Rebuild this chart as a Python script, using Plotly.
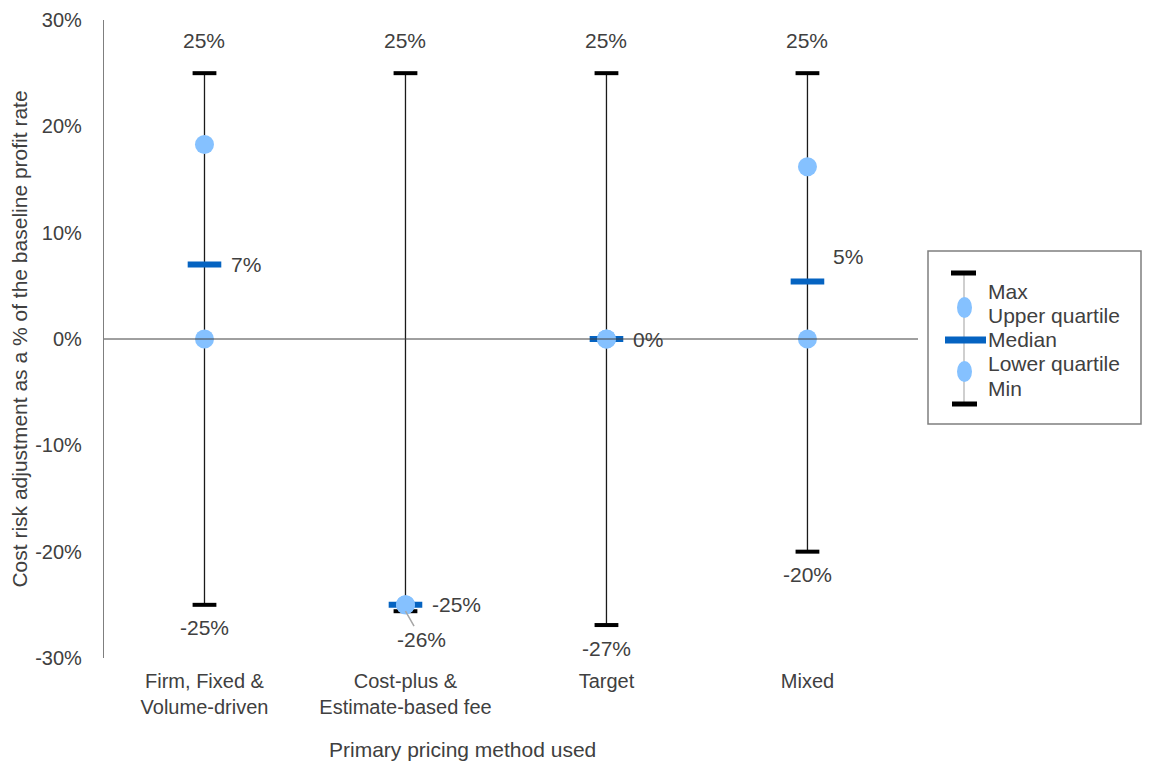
import plotly.graph_objects as go

categories = ["Firm, Fixed &<br>Volume-driven", "Cost-plus &<br>Estimate-based fee", "Target", "Mixed"]
max_vals = [25, 25, 25, 25]
upper_q = [18.3, -25, 0, 16.2]
median = [7, -25, 0, 5.4]
lower_q = [0, -25, 0, 0]
min_vals = [-25, -25.6, -26.9, -20]

FONT = "Liberation Sans, Arial, sans-serif"
TXT = "#404040"
BLUE = "#0563C1"
LBLUE = "#85C1FF"

xs = list(range(len(categories)))
fig = go.Figure()

# whiskers
lx, ly = [], []
for i in xs:
    lx += [i, i, None]
    ly += [min_vals[i], max_vals[i], None]
fig.add_trace(go.Scatter(x=lx, y=ly, mode="lines", line=dict(color="#1a1a1a", width=1.3), hoverinfo="skip"))
# caps
fig.add_trace(go.Scatter(x=xs, y=max_vals, mode="markers",
                         marker=dict(symbol="line-ew", size=17, line=dict(color="black", width=4))))
fig.add_trace(go.Scatter(x=xs, y=min_vals, mode="markers",
                         marker=dict(symbol="line-ew", size=17, line=dict(color="black", width=4))))
# median
fig.add_trace(go.Scatter(x=xs, y=median, mode="markers",
                         marker=dict(symbol="line-ew", size=24, line=dict(color=BLUE, width=6))))
# quartiles
fig.add_trace(go.Scatter(x=xs, y=upper_q, mode="markers", marker=dict(symbol="circle", size=19, color=LBLUE)))
fig.add_trace(go.Scatter(x=xs, y=lower_q, mode="markers", marker=dict(symbol="circle", size=19, color=LBLUE)))

def pct(v):
    return f"{round(v):d}%"

LBL = 21
ann = []
for i in xs:
    ann.append(dict(x=i, y=max_vals[i], text=pct(max_vals[i]), showarrow=False, yshift=33))
# median labels
med_off = [(42, 0), (51, 0), (42, 0), (41, 25)]
for i in xs:
    ann.append(dict(x=i, y=median[i], text=pct(median[i]), showarrow=False,
                    xshift=med_off[i][0], yshift=med_off[i][1]))
# min labels
for i in xs:
    if i == 1:
        ann.append(dict(x=i, y=min_vals[i], text=pct(min_vals[i]), showarrow=True, arrowhead=0,
                        arrowcolor="#a6a6a6", arrowwidth=1.5, ax=16, ay=28, standoff=0))
    else:
        ann.append(dict(x=i, y=min_vals[i], text=pct(min_vals[i]), showarrow=False, yshift=-23))
for a in ann:
    a.update(xref="x", yref="y", font=dict(family=FONT, size=LBL, color=TXT))

# legend box (paper coordinates computed from pixels in the reference)
L, R, T, B = 104, 918, 20, 658
def px(xp):
    return (xp - L) / (R - L)
def py(yp):
    return (B - yp) / (B - T)

shapes = [
    dict(type="line", xref="paper", yref="y", x0=0, x1=1, y0=0, y1=0, line=dict(color="#404040", width=1)),
    dict(type="rect", xref="paper", yref="paper", x0=px(928), x1=px(1141), y0=py(251), y1=py(424),
         line=dict(color="#7f7f7f", width=1.5), fillcolor="white"),
    dict(type="line", xref="paper", yref="paper", x0=px(964), x1=px(964), y0=py(273), y1=py(404),
         line=dict(color="#bfbfbf", width=1.5)),
    dict(type="line", xref="paper", yref="paper", x0=px(951), x1=px(976), y0=py(273), y1=py(273),
         line=dict(color="black", width=5)),
    dict(type="line", xref="paper", yref="paper", x0=px(952), x1=px(977), y0=py(404), y1=py(404),
         line=dict(color="black", width=5)),
    dict(type="line", xref="paper", yref="paper", x0=px(945), x1=px(986), y0=py(340), y1=py(340),
         line=dict(color=BLUE, width=7)),
    dict(type="circle", xref="paper", yref="paper", x0=px(957), x1=px(972), y0=py(297), y1=py(318),
         fillcolor=LBLUE, line=dict(width=0)),
    dict(type="circle", xref="paper", yref="paper", x0=px(957), x1=px(972), y0=py(361), y1=py(382),
         fillcolor=LBLUE, line=dict(width=0)),
]
leg_items = [("Max", 291), ("Upper quartile", 315), ("Median", 339), ("Lower quartile", 364), ("Min", 388)]
for t, yy in leg_items:
    ann.append(dict(xref="paper", yref="paper", x=px(986), y=py(yy), text=t, showarrow=False,
                    xanchor="left", yanchor="middle", font=dict(family=FONT, size=21, color=TXT)))

# x-axis title (placed like the reference, left of the plot centre)
ann.append(dict(xref="paper", yref="paper", x=px(462), y=py(749), text="Primary pricing method used",
                showarrow=False, xanchor="center", yanchor="middle",
                font=dict(family=FONT, size=21, color=TXT)))

OFF = 8  # page body margin
fig.update_layout(
    width=1151 - OFF, height=765 - OFF,
    margin=dict(l=L - OFF, r=1151 - R, t=T - OFF, b=765 - B, autoexpand=False),
    paper_bgcolor="white", plot_bgcolor="white",
    showlegend=False,
    font=dict(family=FONT, size=20, color=TXT),
    shapes=shapes, annotations=ann,
    xaxis=dict(range=[-0.5, 3.55], tickmode="array", tickvals=xs, ticktext=categories,
               automargin=False,
               showgrid=False, zeroline=False, showline=False, ticks="",
               ticklabelstandoff=9,
               tickfont=dict(family=FONT, size=20, color=TXT)),
    yaxis=dict(range=[-30, 30], tickvals=[-30, -20, -10, 0, 10, 20, 30],
               ticktext=["-30%", "-20%", "-10%", "0%", "10%", "20%", "30%"],
               automargin=False,
               showgrid=False, zeroline=False, showline=True, linecolor="#7f7f7f", linewidth=1.3,
               ticks="", ticklen=0, ticklabelstandoff=17,
               tickfont=dict(family=FONT, size=20, color=TXT),
               title=dict(text="Cost risk adjustment as a % of the baseline profit rate",
                          font=dict(family=FONT, size=21, color=TXT), standoff=7)),
)

fig.write_html("out.html")
